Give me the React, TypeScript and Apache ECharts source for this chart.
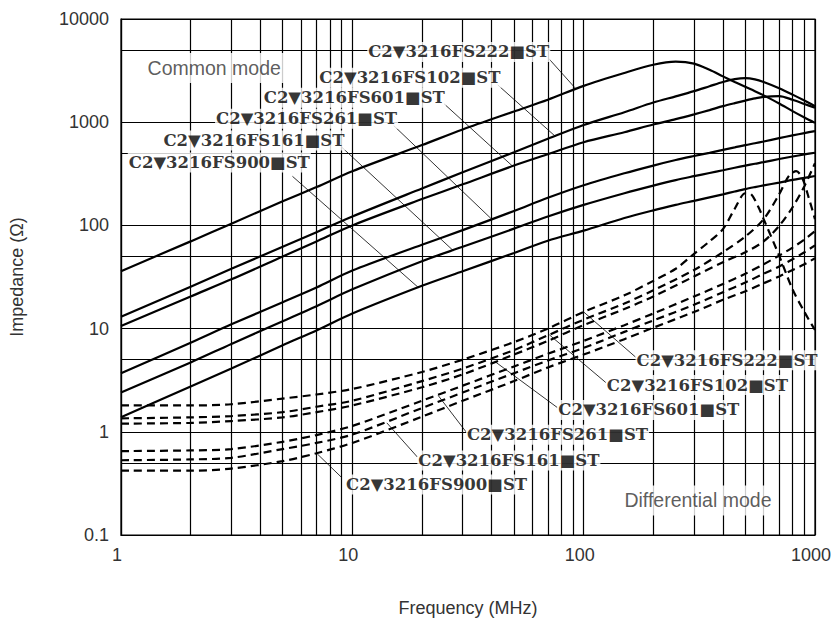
import React, { useEffect, useRef } from "react";
import * as echarts from "echarts";

// ---------- data ----------
const freqTicks = [1, 10, 100, 1000];
const impTicks = [0.1, 1, 10, 100, 1000, 10000];
const xMinorGrid = [2, 3, 4, 5, 6, 7, 8, 9, 20, 30, 40, 50, 60, 70, 80, 90, 200, 300, 400, 500, 600, 700, 800, 900];
const yMinorGrid = [0.5, 5, 50, 500, 5000];

const freqCM = [1, 2, 3, 5, 7, 10, 20, 30, 50, 70, 100, 150, 200, 250, 300, 350, 400, 450, 500, 550, 600, 700, 800, 900, 1000];
const cm222 = [36, 70, 104, 171, 235, 335, 600, 850, 1270, 1650, 2250, 3000, 3600, 3860, 3700, 3220, 2780, 2450, 2200, 2000, 1820, 1520, 1280, 1110, 985];
const cm102 = [13, 25.5, 38, 62, 86, 122, 228, 327, 512, 690, 940, 1250, 1550, 1780, 2000, 2230, 2450, 2610, 2670, 2600, 2450, 2130, 1850, 1620, 1430];
const cm601 = [10.6, 20.5, 30, 50, 70, 100, 180, 250, 380, 490, 640, 800, 950, 1070, 1190, 1310, 1430, 1530, 1620, 1700, 1760, 1790, 1650, 1500, 1380];
const cm261 = [3.7, 7.3, 11, 18, 25, 36.5, 65, 90, 138, 185, 245, 320, 380, 430, 470, 505, 540, 570, 600, 625, 650, 700, 745, 785, 820];
const cm161 = [2.4, 4.7, 7.1, 11.8, 16.5, 24, 45, 62, 93, 122, 158, 205, 243, 275, 300, 322, 342, 362, 380, 396, 410, 440, 465, 487, 506];
const cm900 = [1.38, 2.75, 4.1, 6.9, 9.6, 14, 26, 36, 54, 71, 89, 118, 140, 158, 173, 187, 200, 213, 225, 235, 244, 260, 276, 289, 301];

const dm222 = [[1, 1.8], [2, 1.8], [3, 1.85], [5, 2.1], [7, 2.3], [10, 2.6], [20, 3.8], [30, 5.0], [50, 7.4], [70, 10], [100, 14.5], [150, 21], [200, 29], [250, 38], [300, 53], [350, 70], [400, 92], [450, 145], [500, 205], [530, 200], [570, 150], [600, 115], [700, 51], [800, 24], [900, 14.5], [1000, 9.7]];
const dm102 = [[1, 1.35], [2, 1.38], [3, 1.42], [5, 1.55], [7, 1.75], [10, 2.0], [20, 3.1], [30, 4.1], [50, 6.2], [70, 8.6], [100, 12.2], [150, 17.5], [200, 23.5], [300, 37], [400, 55], [500, 78], [600, 115], [700, 200], [770, 300], [830, 335], [880, 290], [940, 185], [1000, 115]];
const dm601 = [[1, 1.2], [2, 1.22], [3, 1.27], [5, 1.38], [7, 1.55], [10, 1.8], [20, 2.7], [30, 3.6], [50, 5.6], [70, 7.6], [100, 10.8], [150, 15.5], [200, 20.5], [300, 32], [400, 44], [500, 55], [600, 70], [700, 99], [800, 150], [900, 240], [1000, 400]];
const dm261 = [[1, 0.65], [2, 0.66], [3, 0.68], [5, 0.8], [7, 0.93], [10, 1.14], [20, 2.0], [30, 2.8], [50, 4.3], [70, 5.7], [100, 7.6], [150, 10.8], [200, 14], [300, 20.5], [400, 27], [500, 34], [600, 42], [700, 51], [800, 61], [900, 73], [1000, 88]];
const dm161 = [[1, 0.53], [2, 0.54], [3, 0.56], [5, 0.68], [7, 0.78], [10, 0.94], [20, 1.7], [30, 2.4], [50, 3.7], [70, 4.9], [100, 6.5], [150, 9.3], [200, 12], [300, 17], [400, 22.5], [500, 28], [600, 34], [700, 40], [800, 47], [900, 55], [1000, 64]];
const dm900 = [[1, 0.42], [2, 0.42], [3, 0.44], [5, 0.52], [7, 0.62], [10, 0.78], [20, 1.4], [30, 2.0], [50, 3.1], [70, 4.2], [100, 5.6], [150, 7.9], [200, 10.2], [300, 14.5], [400, 19], [500, 23], [600, 27.5], [700, 32], [800, 37], [900, 42], [1000, 48]];

// part-number labels: [text, anchorFreq, anchorImp, leaderFromFreq, leaderFromImp, leaderToFreq, leaderToImp]
const cmLabels: [string, number, number, number, number, number, number][] = [
  ["C2▼3216FS222■ST", 11.6, 4800, 70.3, 4190, 91.8, 2150],
  ["C2▼3216FS102■ST", 7.13, 2690, 42.5, 2300, 75.4, 730],
  ["C2▼3216FS601■ST", 4.1, 1726, 24.9, 1510, 49.3, 375],
  ["C2▼3216FS261■ST", 2.55, 1083, 15.1, 927, 39.7, 117],
  ["C2▼3216FS161■ST", 1.51, 665, 9.03, 569, 27.3, 57],
  ["C2▼3216FS900■ST", 1.07, 408, 5.51, 299, 19.3, 25],
];
const dmLabels: [string, number, number, number, number, number, number][] = [
  ["C2▼3216FS222■ST", 167.6, 4.94, 167.6, 5.3, 100, 14.5],
  ["C2▼3216FS102■ST", 124.7, 2.84, 124.7, 3.0, 71.1, 8.7],
  ["C2▼3216FS601■ST", 76.9, 1.63, 76.9, 1.72, 41.3, 4.8],
  ["C2▼3216FS261■ST", 31.0, 0.936, 31.0, 1.0, 23.5, 2.25],
  ["C2▼3216FS161■ST", 19.1, 0.526, 19.1, 0.57, 14.1, 1.22],
  ["C2▼3216FS900■ST", 9.3, 0.309, 9.0, 0.36, 7.06, 0.61],
];
const modeLabels: [string, number, number][] = [
  ["Common mode", 2.53, 3357],
  ["Differential mode", 312, 0.216],
];

const sansFont = "'Liberation Sans', Arial, sans-serif";
const partFont = "'DejaVu Serif', serif";

export default function App() {
  const ref = useRef<HTMLDivElement>(null);
  useEffect(() => {
    const chart = echarts.init(ref.current!, null, { renderer: "svg" });

    const solid = (data: number[]) => ({
      type: "line",
      data: freqCM.map((f, i) => [f, data[i]]),
      showSymbol: false,
      symbol: "none",
      smooth: 0.3,
      lineStyle: { color: "#000", width: 2.2 },
      silent: true,
      z: 3,
    });
    const dashed = (data: number[][]) => ({
      type: "line",
      data,
      showSymbol: false,
      symbol: "none",
      smooth: 0.3,
      lineStyle: { color: "#000", width: 2.2, type: [8, 5] },
      silent: true,
      z: 3,
    });

    const allPart = [...cmLabels, ...dmLabels];

    const option: any = {
      animation: false,
      backgroundColor: "#fff",
      grid: {
        left: 115,
        right: 19,
        top: 19,
        bottom: 84,
        show: true,
        borderColor: "#000",
        borderWidth: 1.2,
        backgroundColor: "transparent",
      },
      xAxis: {
        type: "log",
        logBase: 10,
        min: 1,
        max: 1000,
        name: "Frequency (MHz)",
        nameLocation: "middle",
        nameGap: 64,
        nameTextStyle: { fontFamily: sansFont, fontSize: 18, color: "#333" },
        axisLine: { show: true, lineStyle: { color: "#000", width: 1.2 } },
        axisTick: { show: false },
        axisLabel: {
          fontFamily: sansFont,
          fontSize: 18,
          color: "#333",
          margin: 11,
          padding: [0, 8, 0, 0],
          formatter: (v: number) => (freqTicks.includes(Math.round(v)) ? String(Math.round(v)) : ""),
        },
        splitLine: { show: true, lineStyle: { color: "#000", width: 1.2 } },
      },
      yAxis: {
        type: "log",
        logBase: 10,
        min: 0.1,
        max: 10000,
        name: "Impedance (Ω)",
        nameLocation: "middle",
        nameGap: 95,
        nameRotate: 90,
        nameTextStyle: { fontFamily: sansFont, fontSize: 18, color: "#333" },
        axisLine: { show: true, lineStyle: { color: "#000", width: 1.2 } },
        axisTick: { show: false },
        axisLabel: {
          fontFamily: sansFont,
          fontSize: 18,
          color: "#333",
          margin: 12,
          formatter: (v: number) => {
            const m = impTicks.find((t) => Math.abs(t - v) / t < 1e-6);
            return m !== undefined ? String(m) : "";
          },
        },
        splitLine: { show: true, lineStyle: { color: "#000", width: 1.2 } },
      },
      series: [
        {
          type: "scatter",
          data: [[1, 0.1]],
          symbolSize: 0,
          silent: true,
          z: 1,
          markLine: {
            silent: true,
            symbol: ["none", "none"],
            label: { show: false },
            lineStyle: { color: "#000", width: 1.2, type: "solid" },
            emphasis: { disabled: true },
            data: [
              ...xMinorGrid.map((x) => ({ xAxis: x })),
              ...yMinorGrid.map((y) => ({ yAxis: y })),
            ],
          },
        },
        solid(cm222),
        solid(cm102),
        solid(cm601),
        solid(cm261),
        solid(cm161),
        solid(cm900),
        dashed(dm222),
        dashed(dm102),
        dashed(dm601),
        dashed(dm261),
        dashed(dm161),
        dashed(dm900),
        {
          type: "scatter",
          symbolSize: 0,
          silent: true,
          z: 10,
          data: allPart.map((l) => ({
            value: [l[1], l[2]],
            label: {
              show: true,
              position: "right",
              distance: 0,
              formatter: l[0],
              fontFamily: partFont,
              fontWeight: "bold",
              fontSize: 16.5,
              color: "#000",
              backgroundColor: "#fff",
              padding: [2, 1, 1, 1],
            },
          })),
          markLine: {
            silent: true,
            symbol: ["none", "none"],
            label: { show: false },
            lineStyle: { color: "#000", width: 0.8, type: "solid" },
            emphasis: { disabled: true },
            data: allPart.map((l) => [{ coord: [l[3], l[4]] }, { coord: [l[5], l[6]] }]),
          },
        },
        {
          type: "scatter",
          symbolSize: 0,
          silent: true,
          z: 10,
          data: modeLabels.map((l) => ({
            value: [l[1], l[2]],
            label: {
              show: true,
              position: "inside",
              formatter: l[0],
              fontFamily: sansFont,
              fontSize: 19.5,
              color: "#333",
              backgroundColor: "#fff",
              padding: [5, 3, 5, 3],
            },
          })),
        },
      ],
    };
    chart.setOption(option);
    return () => chart.dispose();
  }, []);
  return (
    <div
      ref={ref}
      style={{ position: "absolute", left: 0, top: 0, width: 834, height: 622, background: "#fff" }}
    />
  );
}
